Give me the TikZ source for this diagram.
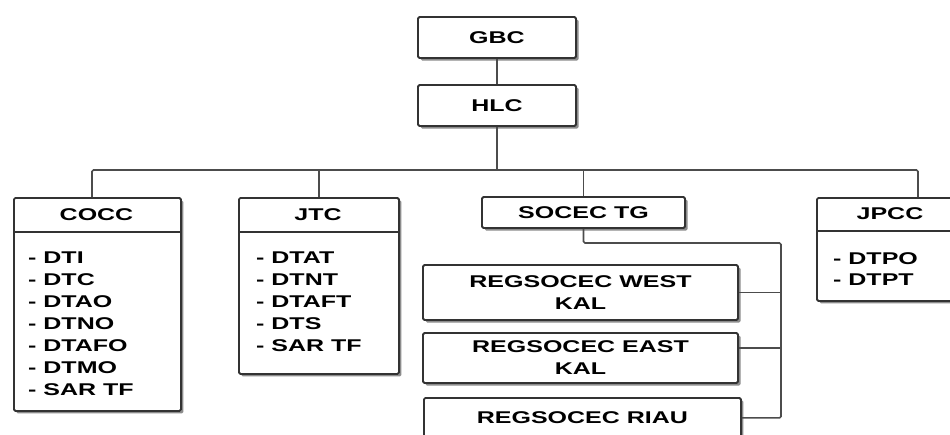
\documentclass[tikz,border=0pt]{standalone}
\usepackage{fontspec}
\setmainfont{Liberation Sans}[FakeStretch=1.47]
\usetikzlibrary{shadows}

\begin{document}
\begin{tikzpicture}[x=1pt,y=-1pt,
		orgbox/.style={draw=black!80, line width=1.8pt, fill=white, rounded corners=1.5pt,
			drop shadow={shadow xshift=2.5pt, shadow yshift=-2.5pt, fill=black, opacity=.45},
			inner sep=0pt, align=center, font=\orgfont},
		orgtext/.style={inner sep=0pt, font=\orgfont},
		orglist/.style={inner sep=0pt, align=left, anchor=north west, font=\orgfont},
		link/.style={draw=black!70, line width=1.6pt, rounded corners=1.5pt}]
		\providecommand{\orgfont}{\fontsize{17}{21.9}\selectfont\bfseries}
		\useasboundingbox (0,0) rectangle (950,434);
		
		% Top level
		\node[orgbox, minimum width=158, minimum height=41] (gbc) at (497,37.5) {GBC};
		\node[orgbox, minimum width=158, minimum height=41] (hlc) at (497,105.5) {HLC};
		
		% Commands with their task units
		\node[orgbox, minimum width=167, minimum height=213, anchor=north west] (cocc) at (13,197) {};
		\node[orgbox, minimum width=160, minimum height=176, anchor=north west] (jtc) at (238,197) {};
		\node[orgbox, minimum width=148, minimum height=103, anchor=north west] (jpcc) at (816,197) {};
		
		\draw[draw=black!80, line width=1.4pt] ([yshift=-35pt]cocc.north west) -- ([yshift=-35pt]cocc.north east);
		\draw[draw=black!80, line width=1.4pt] ([yshift=-35pt]jtc.north west) -- ([yshift=-35pt]jtc.north east);
		\draw[draw=black!80, line width=1.4pt] ([yshift=-34pt]jpcc.north west) -- ([yshift=-34pt]jpcc.north east);
		
		\node[orgtext] (cocct) at (96.5,214.5) {COCC};
		\node[orgtext] (jtct) at (318,214.5) {JTC};
		\node[orgtext] (jpcct) at (890,213.5) {JPCC};
		
		\node[orglist] (coccl) at (28,252) {- DTI\\- DTC\\- DTAO\\- DTNO\\- DTAFO\\- DTMO\\- SAR TF};
		\node[orglist] (jtcl) at (256,252) {- DTAT\\- DTNT\\- DTAFT\\- DTS\\- SAR TF};
		\node[orglist] (jpccl) at (833,252) {- DTPO\\- DTPT};
		
		% Task group and its regional units
		\node[orgbox, minimum width=203, minimum height=31] (socec) at (583.5,212.5) {SOCEC TG};
		\node[orgbox, minimum width=315, minimum height=55] (westk) at (580.5,292.5) {REGSOCEC WEST\\KAL};
		\node[orgbox, minimum width=315, minimum height=50] (eastk) at (580.5,358) {REGSOCEC EAST\\KAL};
		\node[orgbox, minimum width=317, minimum height=40, anchor=north west] (riau) at (423,397) {REGSOCEC RIAU};
		
		% Connectors
		\coordinate (busw) at (92,170);
		\coordinate (buse) at (918,170);
		\coordinate (sbus) at (781,243);
		
		\draw[link] (gbc.south) -- (hlc.north);
		\draw[link] (busw |- cocc.north) -- (busw) -- (buse) -- (buse |- jpcc.north);
		\draw[link] (hlc.south) -- (hlc.south |- busw);
		\draw[link] (jtc.north) -- (jtc.north |- busw);
		\draw[link] (socec.north) -- (socec.north |- busw);
		
		\draw[link] (socec.south) |- (sbus) -- (sbus |- riau.east) -- (riau.east);
		\draw[link] (westk.east) -- (westk.east -| sbus);
		\draw[link] ([yshift=10pt]eastk.east) -- ([yshift=10pt]eastk.east -| sbus);
		
	\end{tikzpicture}
\end{document}
